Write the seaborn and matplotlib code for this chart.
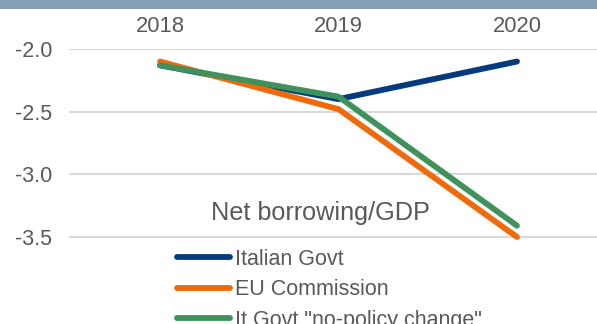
import matplotlib
matplotlib.use("Agg")
import matplotlib.pyplot as plt
import seaborn as sns
import pandas as pd
from matplotlib.patches import Rectangle

# Net borrowing as % of GDP
years = [2018, 2019, 2020]
italian_govt = [-2.13, -2.40, -2.10]
eu_commission = [-2.10, -2.48, -3.50]
no_policy_change = [-2.13, -2.38, -3.41]
series_names = ["Italian Govt", "EU Commission", 'It Govt "no-policy change"']
y_ticks = [-2.0, -2.5, -3.0, -3.5]
title_text = "Net borrowing/GDP"

colors = ["#043B7C", "#EF6A0B", "#3F925C"]
text_gray = "#595959"

df = pd.DataFrame({
    "year": years * 3,
    "value": italian_govt + eu_commission + no_policy_change,
    "series": [series_names[0]] * 3 + [series_names[1]] * 3 + [series_names[2]] * 3,
})

sns.set_theme(style="white")
plt.rcParams["font.family"] = ["Liberation Sans", "DejaVu Sans"]

W, H = 597, 324
fig = plt.figure(figsize=(W / 100, H / 100), dpi=100)
fig.patch.set_facecolor("white")

# header band
fig.patches.append(Rectangle((0, 1 - 8.5 / H), 1, 8.5 / H, transform=fig.transFigure,
                             facecolor="#84A0B6", edgecolor="none", zorder=0))

ax = fig.add_axes([69 / W, 0, 1 - 69 / W, 1 - 49 / H])
ax.set_facecolor("none")

sns.lineplot(data=df, x="year", y="value", hue="series", hue_order=series_names,
             palette=colors, linewidth=4.2, ax=ax, legend=True, sort=False)
for ln in ax.lines:
    ln.set_solid_capstyle("round")
    ln.set_solid_joinstyle("round")

ax.set_xlim(2018 - 91 / 178.5, 2018 + (W - 160) / 178.5)
ax.set_ylim(-3.5 - (H - 237) / 125.33, -2.0)
ax.set_yticks(y_ticks)
ax.set_yticklabels([f"{v:.1f}" for v in y_ticks])
ax.set_xticks(years)
ax.set_xticklabels([str(y) for y in years])
ax.xaxis.tick_top()
ax.tick_params(axis="x", length=0, pad=9, labelsize=15.8, labelcolor=text_gray)
ax.tick_params(axis="y", length=0, pad=12, labelsize=15.5, labelcolor=text_gray)
ax.set_xlabel("")
ax.set_ylabel("")
for s in ax.spines.values():
    s.set_visible(False)

for v in y_ticks:
    ax.axhline(v, color="#D9D9D9", linewidth=1.5, zorder=0)

ax.text(320 / W, 1 - 213 / H, title_text, transform=fig.transFigure, ha="center",
        va="center", fontsize=18.2, color=text_gray)

handles, labels = ax.get_legend_handles_labels()
ax.legend(handles, labels, loc="upper left", bbox_to_anchor=(177 / W, 1 - 249 / H),
          bbox_transform=fig.transFigure, frameon=False, fontsize=15.5,
          handlelength=2.45, handletextpad=0.25, labelspacing=0.44,
          borderaxespad=0, borderpad=0, labelcolor=text_gray)

fig.savefig("out.png", dpi=100)
